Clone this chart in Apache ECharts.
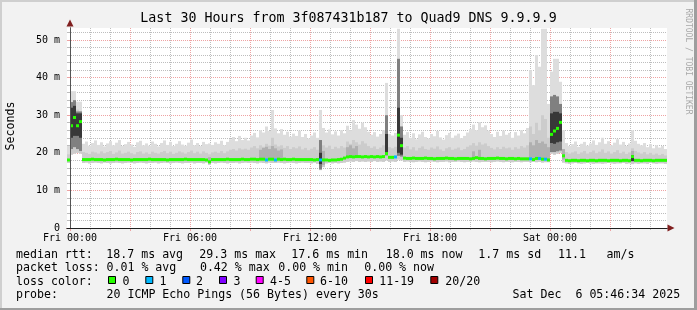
<!DOCTYPE html>
<html><head><meta charset="utf-8">
<script src="https://cdn.jsdelivr.net/npm/echarts@6/dist/echarts.min.js"></script>
<style>html,body{margin:0;padding:0;background:#f2f2f2;}#c{width:697px;height:310px;}</style>
</head><body><div id="c"></div>
<script>
// ---- data (hours relative to Fri 00:00; one column = 9 minutes) ----
const START_H = -0.15;
const STEP_H = 0.15;
const END_H = 29.85;

const medianRtt = [
 18.1,27.2,29.4,27.2,28.3,18.2,18.2,18.2,18.3,18.2,
 18.2,18.2,18.1,18.2,18.2,18.2,18.3,18.2,18.2,18.2,
 18.2,18.1,18.2,18.2,18.2,18.2,18.2,18.3,18.2,18.2,
 18.2,18.2,18.2,18.1,18.2,18.2,18.2,18.2,18.2,18.3,
 18.2,18.2,18.2,18.2,18.2,18.2,18.1,17.6,18.2,18.2,
 18.2,18.2,18.2,18.3,18.2,18.2,18.2,18.2,18.3,18.2,
 18.2,18.3,18.3,18.2,18.3,18.3,18.1,18.3,18.3,18.1,
 18.3,18.2,18.3,18.2,18.2,18.3,18.2,18.2,18.2,18.2,
 18.2,18.2,18.1,18.2,18.1,18.1,18.1,18.0,18.1,18.1,
 18.2,18.3,18.6,18.9,19.0,18.9,19.0,19.0,18.9,19.0,
 18.9,19.0,18.9,19.0,18.9,19.0,19.8,18.8,18.8,18.9,
 24.7,21.9,18.6,18.5,18.5,18.6,18.5,18.5,18.5,18.6,
 18.5,18.5,18.4,18.5,18.5,18.5,18.6,18.5,18.5,18.4,
 18.5,18.5,18.5,18.5,18.4,18.5,18.7,18.5,18.5,18.4,
 18.5,18.5,18.5,18.6,18.5,18.5,18.4,18.5,18.5,18.4,
 18.5,18.4,18.4,18.4,18.4,18.2,18.5,18.5,18.3,18.3,
 18.1,24.9,25.8,26.5,28.1,19.2,18.0,17.9,18.0,18.0,
 17.9,18.0,18.0,17.9,18.0,18.0,17.9,18.0,18.0,18.0,
 17.9,18.0,18.0,18.0,17.9,18.0,18.0,17.9,19.0,18.0,
 18.0,17.9,18.0,18.0,18.0,17.9,18.0,18.0,18.0,18.0
];
const minRtt = [
 17.3,19.5,19.8,20.0,19.8,17.3,17.4,17.2,17.3,17.4,
 17.3,17.2,17.4,17.3,17.2,17.3,17.4,17.3,17.2,17.3,
 17.4,17.3,17.2,17.3,17.4,17.3,17.2,17.3,17.3,17.4,
 17.2,17.3,17.4,17.3,17.2,17.3,17.4,17.3,17.2,17.3,
 17.3,17.4,17.2,17.3,17.3,17.2,17.4,16.8,17.3,17.2,
 17.3,17.4,17.3,17.2,17.3,17.3,17.4,17.2,17.3,17.4,
 17.3,17.4,17.3,17.2,17.4,17.3,17.2,17.4,17.3,17.3,
 17.4,17.3,17.2,17.3,17.4,17.3,17.2,17.3,17.4,17.3,
 17.3,17.2,17.4,17.1,15.4,16.2,17.2,17.3,17.2,17.3,
 17.2,17.3,17.4,17.6,17.7,17.6,17.8,17.6,17.7,17.6,
 17.7,17.6,17.8,17.6,17.7,17.6,18.0,17.6,17.7,17.6,
 18.2,18.0,17.6,17.7,17.6,17.5,17.6,17.7,17.6,17.5,
 17.6,17.7,17.6,17.5,17.6,17.6,17.7,17.5,17.6,17.6,
 17.7,17.6,17.5,17.6,17.6,17.7,17.6,17.5,17.6,17.6,
 17.6,17.5,17.6,17.7,17.6,17.5,17.6,17.6,17.5,17.6,
 17.6,17.5,17.6,17.6,17.5,17.6,17.5,17.6,17.4,17.5,
 17.5,19.8,19.5,19.8,20.0,17.4,17.2,17.1,17.2,17.3,
 17.2,17.1,17.2,17.3,17.2,17.1,17.2,17.2,17.1,17.2,
 17.3,17.2,17.1,17.2,17.2,17.3,17.1,17.2,17.0,17.2,
 17.1,17.2,17.2,17.1,17.3,17.2,17.1,17.2,17.2,17.1
];
const p90Rtt = [
 19.6,33.0,33.5,31.5,31.0,20.2,20.0,19.7,20.3,20.1,
 19.8,20.4,19.9,20.2,20.5,19.7,20.1,20.6,19.8,20.0,
 20.3,19.9,19.6,20.2,20.4,19.8,20.1,19.7,20.3,20.0,
 19.8,20.2,20.5,19.9,20.3,19.7,20.0,20.4,20.1,19.8,
 20.2,20.6,19.9,20.3,19.8,20.4,20.0,19.6,20.1,20.3,
 20.0,20.5,19.9,20.4,20.8,21.0,20.6,21.2,20.9,21.1,
 20.8,21.4,21.8,21.2,22.0,21.6,22.4,21.9,24.0,22.2,
 21.7,22.0,21.3,21.8,21.0,21.5,21.2,21.7,20.9,21.3,
 20.7,21.1,21.5,20.8,23.4,22.0,21.4,21.9,21.0,21.6,
 21.2,21.8,21.4,23.0,22.4,23.4,22.8,22.2,23.1,22.5,
 21.8,21.3,21.7,21.0,21.4,22.0,30.0,21.5,21.2,21.6,
 45.0,27.0,21.4,21.8,20.9,21.5,20.6,21.3,21.7,21.0,
 20.8,21.4,21.1,21.7,20.9,20.5,21.2,21.5,20.8,21.1,
 21.4,20.7,21.0,21.6,22.0,22.6,21.9,22.8,22.2,22.5,
 21.8,21.3,20.9,21.5,21.0,21.6,21.2,21.4,20.8,21.5,
 21.1,21.8,21.4,22.0,27.0,25.0,28.0,26.0,30.0,29.0,
 24.0,35.0,35.4,35.0,33.0,21.0,20.2,19.8,20.1,20.4,
 19.7,20.1,20.5,19.8,20.2,20.6,19.9,20.3,20.9,20.0,
 20.4,19.8,20.2,20.7,19.9,20.3,19.7,20.1,21.2,20.5,
 20.1,19.8,20.2,19.6,20.0,19.5,19.8,19.4,19.7,19.3
];
const maxRtt = [
 21.8,36.4,36.4,33.6,33.6,22.4,23.0,21.9,22.6,23.3,
 22.1,22.8,21.7,22.5,23.1,22.0,22.7,23.4,21.8,22.3,
 22.9,22.2,21.6,22.8,23.2,22.0,22.5,21.9,23.0,22.4,
 21.7,22.6,23.3,22.1,22.9,21.8,22.4,23.1,22.2,21.9,
 22.7,23.5,22.0,22.6,21.8,22.9,22.3,22.5,22.1,22.8,
 22.4,23.2,22.0,22.9,23.6,24.2,23.1,24.5,23.4,24.0,
 23.3,24.6,25.3,24.1,26.0,25.4,27.0,25.8,31.4,26.5,
 25.2,26.3,24.8,25.6,24.3,25.1,24.5,25.9,24.2,25.0,
 23.8,24.6,25.4,24.0,31.4,26.6,25.4,26.2,24.9,25.7,
 24.6,26.0,25.2,27.2,26.0,28.7,27.5,26.4,28.0,26.8,
 25.6,24.8,25.5,24.3,25.0,26.0,38.6,25.0,24.6,25.3,
 53.0,30.0,24.8,25.5,24.0,25.2,23.6,24.9,25.6,24.2,
 23.8,25.0,24.4,25.8,24.1,23.5,24.7,25.3,24.0,24.6,
 25.1,23.9,24.5,25.4,26.3,27.5,26.0,28.2,26.8,27.3,
 25.9,25.0,24.2,25.6,24.5,25.9,24.8,25.3,24.0,25.5,
 24.6,26.0,25.2,26.6,42.0,38.0,46.0,42.9,53.0,53.0,
 33.0,41.6,45.0,45.0,38.9,26.0,22.6,21.8,22.3,23.0,
 21.6,22.4,22.9,21.9,22.5,23.3,22.1,22.8,24.0,22.4,
 23.1,22.0,22.7,23.6,22.2,22.9,21.8,22.5,26.0,23.2,
 22.4,22.0,22.6,21.5,22.3,21.2,22.0,21.4,21.8,21.0
];
// denser parts of the smoke: [column, low, high]
const coreLight = [
 [47,17.2,18.8],[64,18.4,20.8],[65,18.4,21.3],[66,18.3,21.6],[67,18.4,21.0],[68,18.3,21.8],
 [69,18.4,21.2],[70,18.4,20.6],[71,18.5,20.9],[85,16.8,20.5],
 [93,18.9,21.5],[94,18.9,22.0],[95,18.8,21.2],[96,18.9,21.8],[135,18.6,20.4],[137,18.6,20.8],
 [154,18.3,22.8],[155,18.3,22.0],[156,18.4,23.4],[157,18.3,22.6],[158,18.2,23.0],
 [159,18.2,22.4],[160,18.2,21.5],[165,18.2,21.0],[188,17.6,20.5]
];
const coreMid = [
 [1,21.0,33.5],[2,21.5,34.0],[3,21.0,31.0],[4,20.5,31.0],[84,15.6,23.4],
 [106,19.3,30.0],[110,19.2,45.0],[111,19.0,27.0],
 [161,20.2,35.0],[162,20.2,35.4],[163,20.4,35.0],[164,20.6,33.0]
];
const coreDark = [
 [1,24.0,32.0],[2,24.5,32.5],[3,24.5,30.5],[4,24.0,30.5],[84,17.0,20.0],
 [106,19.6,25.0],[110,20.0,32.0],[111,19.5,24.0],[161,22.6,30.5],[162,22.4,30.9],
 [163,22.8,30.9],[164,23.0,30.5],[188,17.8,19.4]
];
// packet loss level per column (index into lossLabels), zero elsewhere
const lossPoints = [[66,1],[69,1],[84,1],[109,1],[154,1],[157,1],[159,1]];
const lossLabels = ['0','1','2','3','4-5','6-10','11-19','20/20'];
const lossColors = ['#26ff00','#00b8ff','#0059ff','#7e00ff','#ff00ff','#ff5500','#ff0000','#a10000'];

const yMinorTicks = [2,4,6,8,12,14,16,18,22,24,26,28,32,34,36,38,42,44,46,48,52];
const yMajorTicks = [0,10,20,30,40,50];
const xMinorTicks = [1,2,4,5,7,8,10,11,13,14,16,17,19,20,22,23,25,26,28,29];
const xMajorTicks = [0,3,6,9,12,15,18,21,24,27];
const xLabelTicks = [0,6,12,18,24];

const titleText = 'Last 30 Hours from 3f087431b187 to Quad9 DNS 9.9.9.9';
const rttStats = ['18.7 ms avg','29.3 ms max','17.6 ms min','18.0 ms now','1.7 ms sd','11.1','am/s'];
const lossStats = ['0.01 % avg','0.42 % max','0.00 % min','0.00 % now'];
const probeText = '20 ICMP Echo Pings (56 Bytes) every 30s';
const stampText = 'Sat Dec  6 05:46:34 2025';

// ---- build ----
const colT = i => START_H + STEP_H * i;
const lossLevel = medianRtt.map(() => 0);
lossPoints.forEach(([i, l]) => { lossLevel[i] = l; });

const lightData = maxRtt.map((v, i) => [colT(i), colT(i) + STEP_H, minRtt[i], v]);
const midData = p90Rtt.map((v, i) => [colT(i), colT(i) + STEP_H, minRtt[i], v]);
const cols = arr => arr.map(([i, lo, hi]) => [colT(i), colT(i) + STEP_H, lo, hi]);
const medData = medianRtt.map((v, i) => [colT(i), colT(i) + STEP_H, v, lossLevel[i]]);

function band(color) {
  return function (params, api) {
    const a = api.coord([api.value(0), api.value(3)]);
    const b = api.coord([api.value(1), api.value(2)]);
    return { type: 'rect', shape: { x: a[0], y: a[1], width: b[0] - a[0], height: b[1] - a[1] }, style: { fill: color } };
  };
}
function medRender(params, api) {
  const a = api.coord([api.value(0), api.value(2)]);
  const b = api.coord([api.value(1), api.value(2)]);
  return { type: 'rect', shape: { x: a[0], y: a[1] - 1.5, width: b[0] - a[0], height: 3 }, style: { fill: lossColors[api.value(3)] } };
}
function smokeSeries(data, color, z) {
  return { type: 'custom', xAxisIndex: 0, yAxisIndex: 0, data: data, renderItem: band(color),
           encode: { x: [0, 1], y: [2, 3] }, z: z, silent: true, animation: false, clip: true };
}

const MONO = '"DejaVu Sans Mono", monospace';
const MINOR = '#bdbdbd';
const MAJOR = '#eea3a3';
const xFmt = v => (v < 24 ? 'Fri ' : 'Sat ') + String(v % 24).padStart(2, '0') + ':00';
const yFmt = v => (v === 0 ? '0' : v + ' m');

const baseX = { type: 'value', min: START_H, max: END_H, position: 'bottom', gridIndex: 0 };
const baseY = { type: 'value', min: 0, max: 53.2, position: 'left', gridIndex: 0 };

const xAxis = [
  Object.assign({}, baseX, { z: 0, axisLine: { show: false },
    axisTick: { show: true, customValues: xMinorTicks, length: 2, lineStyle: { color: MINOR } },
    axisLabel: { show: false },
    splitLine: { show: true, lineStyle: { color: MINOR, width: 1, type: [1, 1] } } }),
  Object.assign({}, baseX, { z: 0, axisLine: { show: false },
    axisTick: { show: true, customValues: xMajorTicks, length: 3, lineStyle: { color: MAJOR } },
    axisLabel: { show: true, customValues: xLabelTicks, formatter: xFmt, fontFamily: MONO, fontSize: 10, color: '#000', margin: 5 },
    splitLine: { show: true, lineStyle: { color: MAJOR, width: 1, type: [1, 1] } } }),
  Object.assign({}, baseX, { z: 10, axisLine: { show: true, symbol: ['none', 'triangle'], symbolSize: [7, 7], symbolOffset: [0, 4], lineStyle: { color: '#801f1f', width: 1 } },
    axisTick: { show: false }, axisLabel: { show: false }, splitLine: { show: false } }),
  Object.assign({}, baseX, { z: 11, axisLine: { show: true, lineStyle: { color: '#1f1f1f', width: 1 } },
    axisTick: { show: false }, axisLabel: { show: false }, splitLine: { show: false } })
];
const yAxis = [
  Object.assign({}, baseY, { z: 0, axisLine: { show: false },
    axisTick: { show: true, customValues: yMinorTicks, length: 3, lineStyle: { color: MINOR } },
    axisLabel: { show: false },
    splitLine: { show: true, lineStyle: { color: MINOR, width: 1, type: [1, 1] } } }),
  Object.assign({}, baseY, { z: 0, axisLine: { show: false },
    axisTick: { show: true, customValues: yMajorTicks, length: 3, lineStyle: { color: MAJOR } },
    axisLabel: { show: true, customValues: yMajorTicks, formatter: yFmt, fontFamily: MONO, fontSize: 10, color: '#000', margin: 7 },
    splitLine: { show: true, lineStyle: { color: MAJOR, width: 1, type: [1, 1] } } }),
  Object.assign({}, baseY, { z: 10, axisLine: { show: true, symbol: ['none', 'triangle'], symbolSize: [7, 7], symbolOffset: [0, 5], lineStyle: { color: '#801f1f', width: 1 } },
    axisTick: { show: false }, axisLabel: { show: false }, splitLine: { show: false } }),
  Object.assign({}, baseY, { z: 11, axisLine: { show: true, lineStyle: { color: '#555', width: 1 } },
    axisTick: { show: false }, axisLabel: { show: false }, splitLine: { show: false } })
];

function txt(text, x, y, opts) {
  opts = opts || {};
  return { type: 'text', x: x, y: y, rotation: opts.rotation || 0, z: 50, silent: true,
    style: { text: text, font: (opts.size || 11.6) + 'px ' + MONO, fill: opts.color || '#000',
             align: opts.align || 'left', verticalAlign: 'middle', textAlign: opts.align || 'left', textVerticalAlign: 'middle' } };
}
const g = [];
g.push(txt(titleText, 348.5, 19, { size: 13.3, align: 'center' }));
g.push(txt('Seconds', 11, 126, { rotation: Math.PI / 2, align: 'center' }));
g.push(txt('RRDTOOL / TOBI OETIKER', 688.5, 61.5, { rotation: -Math.PI / 2, align: 'center', size: 8, color: '#a9a9a9' }));
const R1 = 254.8, R2 = 268.3, R3 = 281.8, R4 = 295.3;
g.push(txt('median rtt:', 16, R1));
[106.3, 199.3, 291.3, 385.7, 478.3, 558, 606.6].forEach((x, i) => g.push(txt(rttStats[i], x, R1)));
g.push(txt('packet loss:', 16, R2));
[106.5, 199.9, 278.2, 364.2].forEach((x, i) => g.push(txt(lossStats[i], x, R2)));
g.push(txt('loss color:', 16, R3));
const boxX = [108.5, 145.8, 182.8, 219.5, 256.2, 306.8, 365.5, 430.8];
const labX = [122.6, 159.4, 196, 233.6, 270, 320, 379.2, 445.3];
boxX.forEach((x, i) => {
  g.push({ type: 'rect', z: 50, silent: true, shape: { x: x, y: 276.5, width: 7, height: 7 }, style: { fill: lossColors[i], stroke: '#000', lineWidth: 1 } });
  g.push(txt(lossLabels[i], labX[i], R3));
});
g.push(txt('probe:', 16, R4));
g.push(txt(probeText, 106.5, R4));
g.push(txt(stampText, 512.6, R4));
// frame shading
g.push({ type: 'rect', z: 100, silent: true, shape: { x: 0, y: 0, width: 697, height: 2 }, style: { fill: '#cfcfcf' } });
g.push({ type: 'rect', z: 100, silent: true, shape: { x: 0, y: 0, width: 2, height: 310 }, style: { fill: '#cfcfcf' } });
g.push({ type: 'rect', z: 101, silent: true, shape: { x: 694, y: 0, width: 3, height: 310 }, style: { fill: '#9e9e9e' } });
g.push({ type: 'rect', z: 101, silent: true, shape: { x: 0, y: 308, width: 697, height: 2 }, style: { fill: '#9e9e9e' } });

const chart = echarts.init(document.getElementById('c'), null, { renderer: 'canvas' });
chart.setOption({
  animation: false,
  backgroundColor: '#f2f2f2',
  grid: { left: 67, right: 30, top: 28, bottom: 82, show: true, backgroundColor: '#ffffff', borderWidth: 0, containLabel: false, outerBoundsMode: 'none' },
  xAxis: xAxis,
  yAxis: yAxis,
  series: [
    smokeSeries(lightData, '#dddddd', 2),
    smokeSeries(midData, '#cccccc', 3),
    smokeSeries(cols(coreLight), '#b0b0b0', 4),
    smokeSeries(cols(coreMid), '#808080', 5),
    smokeSeries(cols(coreDark), '#383838', 6),
    { type: 'custom', xAxisIndex: 0, yAxisIndex: 0, data: medData, renderItem: medRender,
      encode: { x: [0, 1], y: 2 }, z: 7, silent: true, animation: false, clip: true }
  ],
  graphic: { elements: g }
});
</script></body></html>
